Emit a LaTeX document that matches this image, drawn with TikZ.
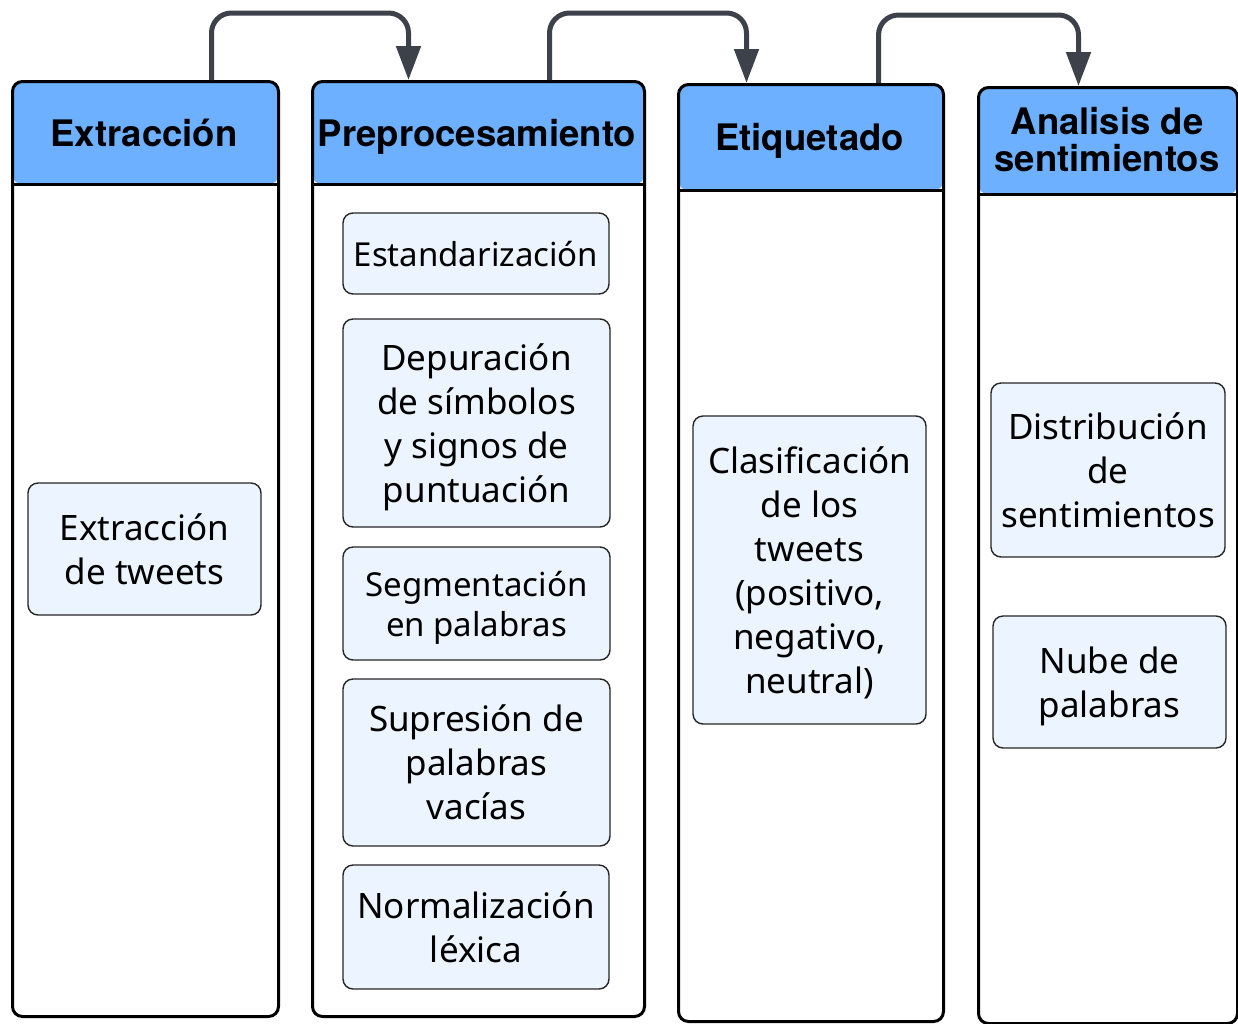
\documentclass[tikz,border=0pt]{standalone}
\usepackage{fontspec}
\setmainfont{Noto Sans}
\newfontfamily\headfont{TeX Gyre Heros}
\usetikzlibrary{arrows.meta}

\definecolor{headblue}{RGB}{108,176,255}
\definecolor{taskfill}{RGB}{235,244,255}
\definecolor{flowgray}{RGB}{61,66,74}
\tikzstyle{task} = [draw=black!85, line width=1.4, rounded corners=10, fill=taskfill, align=center, inner sep=0, text depth=0pt, font=\fontsize{35}{44}\selectfont]

\begin{document}
\begin{tikzpicture}[x=1pt,y=-1pt,
			lane/.style = {draw, line width=3, rounded corners=10, fill=white, anchor=north west, inner sep=0,
				path picture={
					\fill[headblue] (path picture bounding box.north west) rectangle ([yshift=-#1]path picture bounding box.north east);
					\draw[line width=3] ([yshift=-#1]path picture bounding box.north west) -- ([yshift=-#1]path picture bounding box.north east);
				}},
			title/.style = {align=center, inner sep=0, anchor=base, font=\headfont\bfseries\fontsize{36.5}{37}\selectfont},
			small/.style = {font=\fontsize{33}{40}\selectfont},
			flow/.style = {draw=flowgray, line width=5, rounded corners=20, -{Triangle[width=24pt,length=34pt]}}]
			\useasboundingbox (0,0) rectangle (1238,1023);
			% columns
			\node (ext)[lane=103, minimum width=266, minimum height=935] at (11,80) {};
			\node (pre)[lane=103, minimum width=332, minimum height=935] at (311,80) {};
			\node (eti)[lane=106, minimum width=265, minimum height=937] at (677,83) {};
			\node (ana)[lane=107, minimum width=259, minimum height=936] at (977,86) {};
			\node (t1)[title] at (144,146) {Extracción};
			\node (t2)[title] at (477,146) {Preprocesamiento};
			\node (t3)[title] at (809.5,150) {Etiquetado};
			\node (t4)[title, anchor=center] at (1107,140) {Analisis de\\sentimientos};
			
			% tasks
			\node (twt)[task, minimum width=233, minimum height=132] at (144.5,549) {Extracción\\de tweets};
			\node (est)[task, small, minimum width=266, minimum height=81] at (476,253.5) {Estandarización};
			\node (dep)[task, minimum width=267, minimum height=208] at (476.5,423) {Depuración\\de símbolos\\y signos de\\puntuación};
			\node (seg)[task, small, minimum width=267, minimum height=113] at (476.5,603.5) {Segmentación\\en palabras};
			\node (sup)[task, minimum width=267, minimum height=167] at (476.5,762.5) {Supresión de\\palabras\\vacías};
			\node (nor)[task, minimum width=266, minimum height=124] at (476,927) {Normalización\\léxica};
			\node (cla)[task, minimum width=233, minimum height=308] at (809.5,570) {Clasificación\\de los\\tweets\\(positivo,\\negativo,\\neutral)};
			\node (dis)[task, minimum width=234, minimum height=174] at (1108,470) {Distribución\\de\\sentimientos};
			\node (nub)[task, minimum width=233, minimum height=132] at (1109.5,682) {Nube de\\palabras};
			
			\draw[flow] ([xshift=66]ext.north) -- ++(0,-67) -| ([xshift=-70]pre.north);
			\draw[flow] ([xshift=71]pre.north) -- ++(0,-67) -| ([xshift=-64.5]eti.north);
			\draw[flow] ([xshift=67.5]eti.north) -- ++(0,-68) -| ([xshift=-29.5]ana.north);
		\end{tikzpicture}
\end{document}
